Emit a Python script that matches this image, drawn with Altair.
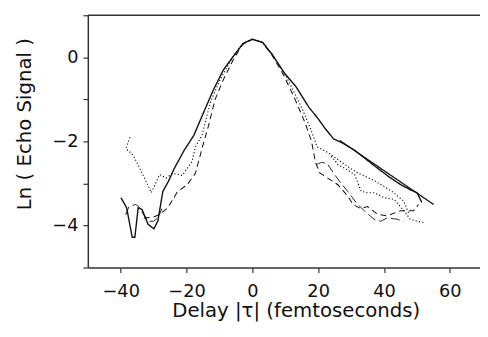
import altair as alt
import pandas as pd

# ---- data ----
solid_x = [-39.9, -38.2, -36.5, -35.7, -34.7, -33.5, -31.7, -29.9, -28.7, -27.2, -25.5, -23.7,
           -20.7, -17.8, -14.8, -11.8, -8.8, -5.8, -2.8, 0, 3.2, 6.2, 9.7, 13.2, 17.2, 19.7,
           22.2, 24.7, 27.2, 31.1, 34.5, 38.1, 41.5, 45.1, 48, 50.1, 51.5]
solid_y = [-3.34, -3.58, -4.28, -4.28, -3.58, -3.62, -3.97, -4.08, -3.89, -3.19, -2.95, -2.64,
           -2.21, -1.86, -1.31, -0.77, -0.30, 0.02, 0.33, 0.43, 0.35, 0.05, -0.37, -0.69, -1.19,
           -1.43, -1.70, -1.94, -2.03, -2.21, -2.42, -2.64, -2.84, -3.03, -3.15, -3.22, -3.45]

fit_x = [26.6, 55.1]
fit_y = [-1.98, -3.50]

dot_x = [-37.2, -38.4, -36.2, -33.7, -30.7, -28.2, -26.2, -24.2, -21.3, -18.3, -17.3, -15.3,
         -12.8, -9.8, -6, -3, 0, 3, 6.2, 9.7, 12.5, 15.2, 17.7, 19.7, 22, 24.2, 28.1, 32, 37,
         40, 43, 46, 47.5]
dot_y = [-1.90, -2.17, -2.33, -2.72, -3.22, -2.79, -2.87, -2.76, -2.81, -2.48, -2.13, -1.86,
         -1.08, -0.53, 0.0, 0.33, 0.43, 0.36, 0.05, -0.37, -0.80, -1.23, -1.70, -2.13, -2.22,
         -2.33, -2.55, -2.75, -2.93, -3.07, -3.22, -3.42, -3.70]

dot2_x = [24, 26.1, 28.1, 31.1, 33.1, 35, 37.1, 40.1, 43.1, 46.1, 48, 50, 52.1]
dot2_y = [-2.35, -2.56, -2.64, -2.79, -3.19, -3.22, -3.22, -3.34, -3.38, -3.65, -3.85, -3.90, -3.93]

dash_x = [-33, -30, -28, -25.7, -22.8, -19.8, -17.3, -15.3, -13.3, -11.3, -8.8, -5.8, -3, 0, 3,
          6, 9.5, 13, 16, 18, 19.2, 20.5, 22.5, 26, 29, 30.6, 33, 35, 38, 41, 45, 49, 50.5]
dash_y = [-3.82, -3.80, -3.73, -3.58, -3.20, -3.03, -2.76, -2.17, -1.62, -1.00, -0.53, -0.06,
          0.30, 0.43, 0.36, 0.05, -0.42, -1.00, -1.55, -2.00, -2.50, -2.75, -2.85, -3.03, -3.30,
          -3.50, -3.60, -3.55, -3.73, -3.77, -3.65, -3.65, -3.50]

ldash_l_x = [-38.5, -37.5, -35.5, -34.5, -33, -31.5, -30, -28.5, -27.5]
ldash_l_y = [-3.75, -3.55, -3.50, -3.55, -3.75, -3.90, -3.90, -3.80, -3.60]

ldash_r_x = [19.5, 21, 22.7, 25, 27, 29, 31.6, 34, 37, 39, 41, 44, 46]
ldash_r_y = [-2.55, -2.50, -2.52, -2.79, -3.00, -3.19, -3.46, -3.65, -3.85, -3.90, -3.82, -3.85, -3.90]

x_ticks = [-40, -20, 0, 20, 40, 60]
y_ticks = [-5, -4, -3, -2, -1, 0, 1]

series = [
    ("solid", "solid", solid_x, solid_y),
    ("fit", "thin", fit_x, fit_y),
    ("dot", "dotted", dot_x, dot_y),
    ("dot2", "dotted", dot2_x, dot2_y),
    ("dash", "dashed", dash_x, dash_y),
    ("ldl", "longdash", ldash_l_x, ldash_l_y),
    ("ldr", "longdash", ldash_r_x, ldash_r_y),
]
rows = []
for seg, style, xs, ys in series:
    for i, (xv, yv) in enumerate(zip(xs, ys)):
        rows.append({"seg": seg, "style": style, "x": xv, "y": yv, "i": i})
df = pd.DataFrame(rows)

W, H = 398, 256
FONT = "DejaVu Sans"

lines = alt.Chart(df).mark_line(color="#111", strokeCap="butt").encode(
    x=alt.X("x:Q", scale=alt.Scale(domain=[-50, 69.2], nice=False, zero=False),
            axis=alt.Axis(values=x_ticks, title="Delay |τ|  (femtoseconds)", grid=False,
                          labelExpr="replace(format(datum.value, 'd'), '-', '\u2212\u2009')",
                          titleX=211, titleY=44, titleBaseline="middle", titleAnchor="start",
                          titleAlign="center")),
    y=alt.Y("y:Q", scale=alt.Scale(domain=[-5, 1], nice=False, zero=False),
            axis=alt.Axis(values=y_ticks, title="Ln ( Echo Signal )", grid=False,
                          labelExpr="datum.value % 2 == 0 ? replace(format(datum.value, 'd'), '-', '\u2212\u2009') : ''",
                          titleX=-64, titleY=110, titleAngle=270, titleAlign="center",
                          titleBaseline="middle")),
    detail="seg:N",
    order="i:Q",
    strokeDash=alt.StrokeDash("style:N", legend=None,
                              scale=alt.Scale(domain=["solid", "thin", "dotted", "dashed", "longdash"],
                                              range=[[1, 0], [1, 0], [1.2, 2.2], [6, 4], [9, 4]])),
    strokeWidth=alt.StrokeWidth("style:N", legend=None,
                                scale=alt.Scale(domain=["solid", "thin", "dotted", "dashed", "longdash"],
                                                range=[1.4, 0.9, 1.3, 1.3, 1.3])),
)

top = alt.Chart(pd.DataFrame({"a": [0]})).mark_rule(color="#333", strokeWidth=1.5).encode(
    x=alt.value(0), x2=alt.value(W), y=alt.value(0))

chart = alt.layer(lines, top).properties(
    width=W, height=H,
    autosize=alt.AutoSizeParams(type="none"),
    padding={"left": 81, "top": 5, "right": 0, "bottom": 60},
).configure_view(stroke=None).configure_axis(
    labelFont=FONT, titleFont=FONT, labelFontSize=18, titleFontSize=20,
    labelColor="#111", titleColor="#111", titleFontWeight="normal",
    domainColor="#333", domainWidth=1.5, tickColor="#333", tickWidth=1.2, tickSize=5,
).configure_axisX(labelPadding=10).configure_axisY(labelPadding=5)

chart.save("out.html", embed_options={"renderer": "svg", "actions": False})
